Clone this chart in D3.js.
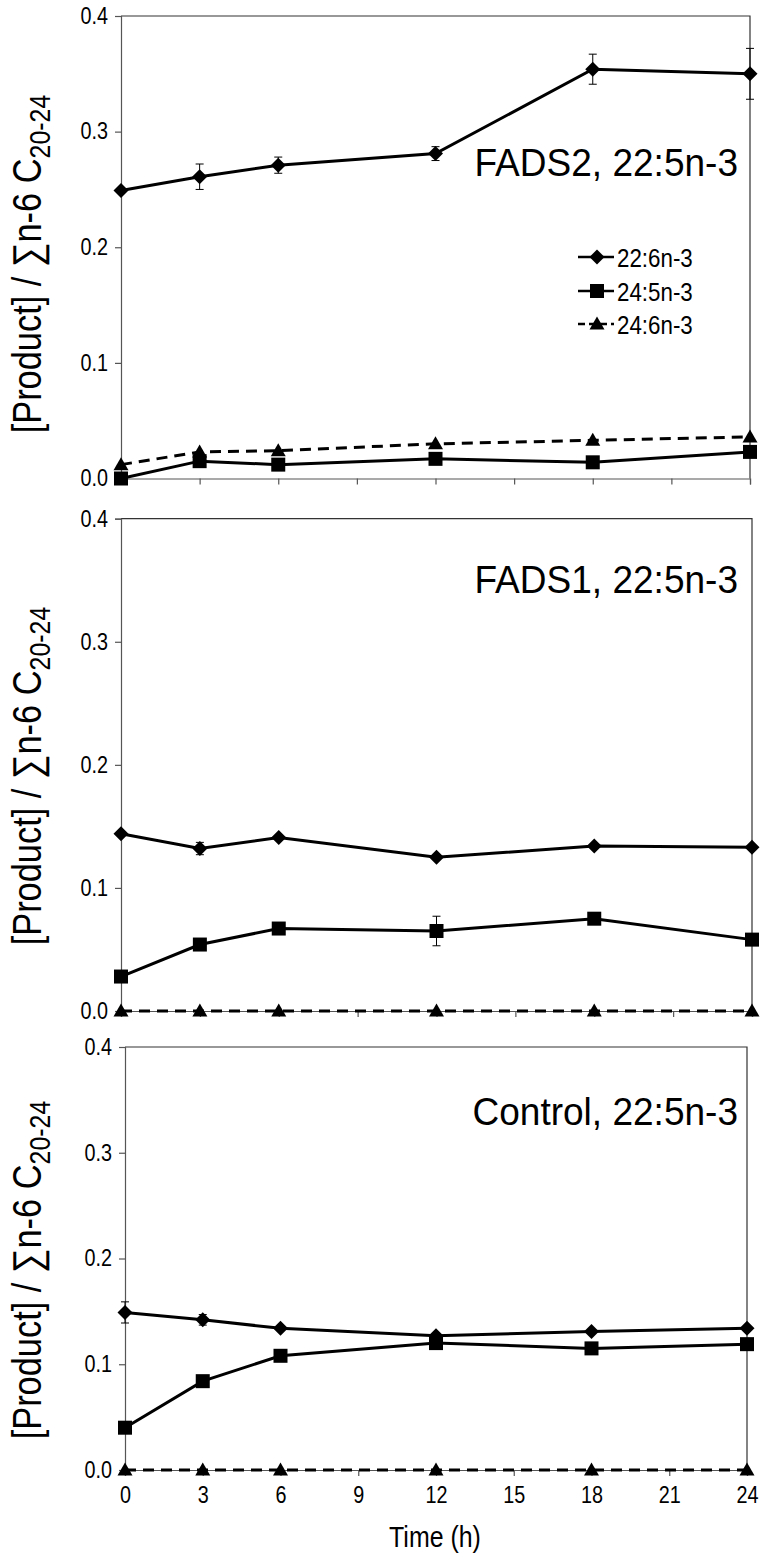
<!DOCTYPE html>
<html><head><meta charset="utf-8">
<script src="https://cdn.jsdelivr.net/npm/d3@7/dist/d3.min.js"></script>
<style>body{margin:0;background:#fff;} svg{display:block;} text{font-family:"Liberation Sans",Arial,sans-serif;fill:#000;}</style>
</head><body>
<svg id="chart" width="764" height="1558"></svg>
<script>
// ---------- data ----------
const times = [0, 3, 6, 12, 18, 24];
const xTicks = [0, 3, 6, 9, 12, 15, 18, 21, 24];
const yTicks = [0, 0.1, 0.2, 0.3, 0.4];
const seriesNames = ["22:6n-3", "24:5n-3", "24:6n-3"];
const panelTitles = ["FADS2, 22:5n-3", "FADS1, 22:5n-3", "Control, 22:5n-3"];
const xLabel = "Time (h)";

// FADS2 panel
const fads2_226 = [0.249, 0.261, 0.271, 0.281, 0.354, 0.350];
const fads2_226_err = [0, 0.011, 0.007, 0.006, 0.013, 0.022];
const fads2_245 = [0.000, 0.015, 0.012, 0.017, 0.014, 0.023];
const fads2_245_err = [0, 0, 0, 0, 0, 0];
const fads2_246 = [0.012, 0.023, 0.024, 0.030, 0.033, 0.036];
const fads2_246_err = [0, 0, 0, 0, 0, 0];
// FADS1 panel
const fads1_226 = [0.144, 0.132, 0.141, 0.125, 0.134, 0.133];
const fads1_226_err = [0, 0.005, 0, 0, 0, 0];
const fads1_245 = [0.028, 0.054, 0.067, 0.065, 0.075, 0.058];
const fads1_245_err = [0, 0.003, 0, 0.012, 0.004, 0];
const fads1_246 = [0, 0, 0, 0, 0, 0];
const fads1_246_err = [0, 0, 0, 0, 0, 0];
// Control panel
const ctrl_226 = [0.149, 0.142, 0.134, 0.127, 0.131, 0.134];
const ctrl_226_err = [0.010, 0.005, 0, 0, 0, 0];
const ctrl_245 = [0.040, 0.084, 0.108, 0.120, 0.115, 0.119];
const ctrl_245_err = [0, 0.005, 0, 0, 0, 0];
const ctrl_246 = [0, 0, 0, 0, 0, 0];
const ctrl_246_err = [0, 0, 0, 0, 0, 0];

const panelData = [
  [[fads2_226, fads2_226_err], [fads2_245, fads2_245_err], [fads2_246, fads2_246_err]],
  [[fads1_226, fads1_226_err], [fads1_245, fads1_245_err], [fads1_246, fads1_246_err]],
  [[ctrl_226, ctrl_226_err], [ctrl_245, ctrl_245_err], [ctrl_246, ctrl_246_err]]
];

// ---------- layout ----------
const layout = [
  {l: 121, r: 750, t: 16, b: 478.5, titleY: 176, labelC: 264},
  {l: 121, r: 752, t: 518.7, b: 1011, titleY: 593, labelC: 776},
  {l: 125, r: 747, t: 1047, b: 1470, titleY: 1125, labelC: 1270}
];
const svg = d3.select("#chart");
const dashes = [null, null, "11,7"];
const SX = 0.86; // horizontal condensing of text

function ctext(parent, x, y, str, size, anchor, sx) {
  const g = parent.append("g").attr("transform", `translate(${x},${y}) scale(${sx || SX},1)`);
  return g.append("text").attr("text-anchor", anchor || "start").style("font-size", size + "px").text(str);
}

function drawMarker(g, i, x, y) {
  if (i === 0) {
    const s = 7.5;
    g.append("path").attr("d", `M${x},${y - s}L${x + s},${y}L${x},${y + s}L${x - s},${y}Z`).attr("fill", "#000");
  } else if (i === 1) {
    const s = 7;
    g.append("rect").attr("x", x - s).attr("y", y - s).attr("width", 2 * s).attr("height", 2 * s).attr("fill", "#000");
  } else {
    g.append("path").attr("d", `M${x},${y - 7.5}L${x + 7.5},${y + 5.5}L${x - 7.5},${y + 5.5}Z`).attr("fill", "#000");
  }
}

function condenseAxisText(sel, size) {
  sel.selectAll(".tick text").each(function () {
    const t = d3.select(this);
    t.style("font-size", size + "px").attr("fill", "#000");
    const xx = +t.attr("x") || 0;
    t.attr("transform", `scale(${SX},1)`).attr("x", xx / SX);
  });
}

layout.forEach((L, p) => {
  const g = svg.append("g");
  const x = d3.scaleLinear().domain([0, 24]).range([L.l, L.r]);
  const y = d3.scaleLinear().domain([0, 0.4]).range([L.b, L.t]);

  g.append("path").attr("d", `M${L.l},${L.t}H${L.r}V${L.b}`).attr("fill", "none").attr("stroke", "#333").attr("stroke-width", 1.2);

  const ya = g.append("g").attr("transform", `translate(${L.l},0)`)
    .call(d3.axisLeft(y).tickValues(yTicks).tickFormat(d3.format(".1f")).tickSize(6).tickPadding(7));
  ya.select(".domain").attr("stroke", "#555").attr("stroke-width", 1.2);
  ya.selectAll(".tick line").attr("stroke", "#555").attr("stroke-width", 1.2);
  condenseAxisText(ya, 23);

  const xa = g.append("g").attr("transform", `translate(0,${L.b})`)
    .call(d3.axisBottom(x).tickValues(xTicks).tickSize(6).tickPadding(11).tickFormat(p === 2 ? d3.format("d") : () => ""));
  xa.select(".domain").attr("stroke", "#555").attr("stroke-width", 1.2);
  xa.selectAll(".tick line").attr("stroke", "#555").attr("stroke-width", 1.2);
  condenseAxisText(xa, 23);

  const yl = g.append("g").attr("transform", `translate(41,${L.labelC}) rotate(-90) scale(${SX},1)`)
    .append("text").attr("text-anchor", "middle").style("font-size", "40px");
  yl.append("tspan").text("[Product] / \u2211n-6 C");
  yl.append("tspan").attr("dy", 9).style("font-size", "29px").text("20-24");

  ctext(g, 738, L.titleY, panelTitles[p], 39, "end", 0.95);

  const line = d3.line().x((d, i) => x(times[i])).y(d => y(d));
  panelData[p].forEach(([vals, errs], si) => {
    vals.forEach((v, i) => {
      const e = errs[i];
      if (e > 0) {
        const cx = x(times[i]);
        g.append("path").attr("d", `M${cx},${y(v - e)}V${y(v + e)}M${cx - 4},${y(v - e)}H${cx + 4}M${cx - 4},${y(v + e)}H${cx + 4}`)
          .attr("stroke", "#000").attr("stroke-width", 1).attr("fill", "none");
      }
    });
    g.append("path").datum(vals).attr("d", line).attr("fill", "none").attr("stroke", "#000")
      .attr("stroke-width", 3).attr("stroke-dasharray", dashes[si]);
    vals.forEach((v, i) => drawMarker(g, si, x(times[i]), y(v)));
  });
});

ctext(svg, 435, 1547, xLabel, 29, "middle");

const lg = svg.append("g");
const legendY = [257, 291, 324];
seriesNames.forEach((n, i) => {
  lg.append("line").attr("x1", 578).attr("x2", 614).attr("y1", legendY[i]).attr("y2", legendY[i])
    .attr("stroke", "#000").attr("stroke-width", 2.5).attr("stroke-dasharray", dashes[i] ? "7,4" : null);
  drawMarker(lg, i, 597, legendY[i]);
  ctext(lg, 617, legendY[i] + 10, n, 26, "start");
});
</script>
</body></html>
